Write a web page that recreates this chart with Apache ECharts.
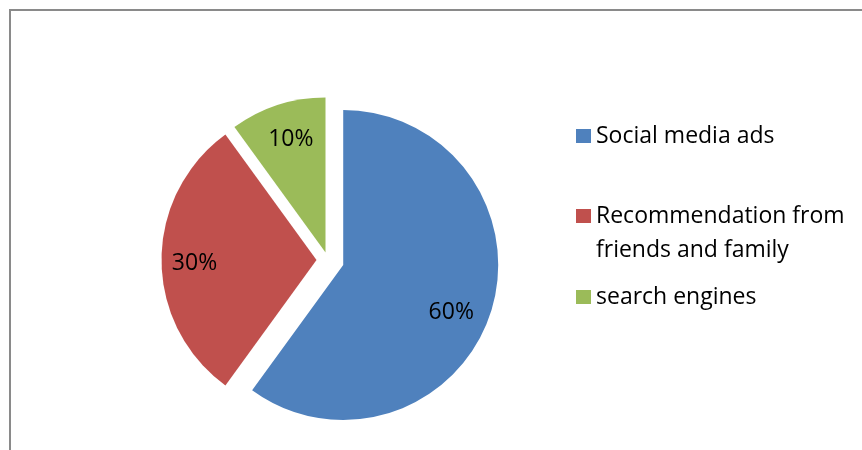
<!DOCTYPE html>
<html>
<head>
<meta charset="utf-8">
<script src="https://cdn.jsdelivr.net/npm/echarts@6/dist/echarts.min.js"></script>
<style>
  html, body { margin: 0; padding: 0; background: #fff; }
  #chart { width: 862px; height: 450px; }
</style>
</head>
<body>
<div id="chart"></div>
<script>
// Data
const categories = ['Social media ads', 'Recommendation from friends and family', 'search engines'];
const shares = [60, 30, 10];
// Legend wording; the leading blank line keeps the icon level with the first text line
const legendText = ['Social media ads', '\nRecommendation from\nfriends and family', 'search engines'];

// Styling
const sliceColors = ['#4F81BD', '#C0504D', '#9BBB59'];
const explodeOffsets = [16, 11.5, 8];   // how far each slice is pulled out
const labelNudges = [[-8, 10], [0, 3], [3, 3]];
const legendTops = [119, 165, 280];
const FONT = '"Open Sans", sans-serif';
const FONT_SIZE = 23;
const LINE = 34;
const CENTER = [328, 260];
const RADIUS = 155;
const LABEL_RADIUS = 238;               // labels sit at half of this radius

const TRANSPARENT = 'rgba(0,0,0,0)';

// Percentage label, shifted by [dx, dy]: horizontal via side padding,
// vertical via an empty spacer line above the value.
function percentLabel(n) {
  const dx = n[0], dy = n[1];
  return {
    show: true,
    padding: [0, dx < 0 ? -2 * dx : 0, 0, dx > 0 ? 2 * dx : 0],
    formatter: '{gap| }\n{v|{d}%}',
    rich: {
      gap: { fontSize: 1, lineHeight: 2 * dy },
      v: { fontFamily: FONT, fontSize: FONT_SIZE, lineHeight: 26, color: '#000' }
    }
  };
}

// One pie per slice so every slice can have its own explode distance;
// the other slices are kept (invisible) so the angles stay correct.
function pieData(i, visible) {
  return categories.map((name, j) => j === i
    ? { name: name, value: shares[j], selected: true,
        itemStyle: { color: visible ? sliceColors[j] : TRANSPARENT },
        label: visible ? { show: false } : percentLabel(labelNudges[j]) }
    : { name: '', value: shares[j], itemStyle: { color: TRANSPARENT }, label: { show: false } });
}

const common = {
  type: 'pie',
  center: CENTER,
  startAngle: 90,
  clockwise: true,
  silent: true,
  animation: false,
  avoidLabelOverlap: false,
  selectedMode: 'multiple',
  percentPrecision: 0,
  padAngle: 0,
  itemStyle: { borderWidth: 0 },
  emphasis: { disabled: true },
  select: { itemStyle: { borderWidth: 0 } },
  labelLine: { show: false }
};

const sliceSeries = categories.map((_, i) => Object.assign({}, common, {
  name: 'slice' + i,
  radius: [0, RADIUS],
  selectedOffset: explodeOffsets[i],
  label: { show: false },
  data: pieData(i, true)
}));

const labelSeries = categories.map((_, i) => Object.assign({}, common, {
  name: 'label' + i,
  radius: [0, LABEL_RADIUS],
  selectedOffset: explodeOffsets[i],
  label: {
    show: true, position: 'inside',
    color: '#000', fontFamily: FONT, fontSize: FONT_SIZE
  },
  data: pieData(i, false)
}));

const legends = categories.map((name, i) => ({
  orient: 'vertical',
  left: 576,
  top: legendTops[i],
  padding: 0,
  itemWidth: 15,
  itemHeight: 14,
  icon: 'rect',
  selectedMode: false,
  data: [{ name: name, itemStyle: { color: sliceColors[i], borderWidth: 0 } }],
  formatter: () => legendText[i],
  textStyle: {
    fontFamily: FONT, fontSize: FONT_SIZE, color: '#000', lineHeight: LINE
  }
}));

const chart = echarts.init(document.getElementById('chart'), null, { renderer: 'canvas' });
chart.setOption({
  backgroundColor: '#fff',
  animation: false,
  legend: legends,
  graphic: [{
    type: 'rect',
    silent: true,
    shape: { x: 10, y: 10, width: 900, height: 500 },
    style: { fill: 'none', stroke: '#8a8a8a', lineWidth: 2 }
  }],
  series: sliceSeries.concat(labelSeries)
});
</script>
</body>
</html>
